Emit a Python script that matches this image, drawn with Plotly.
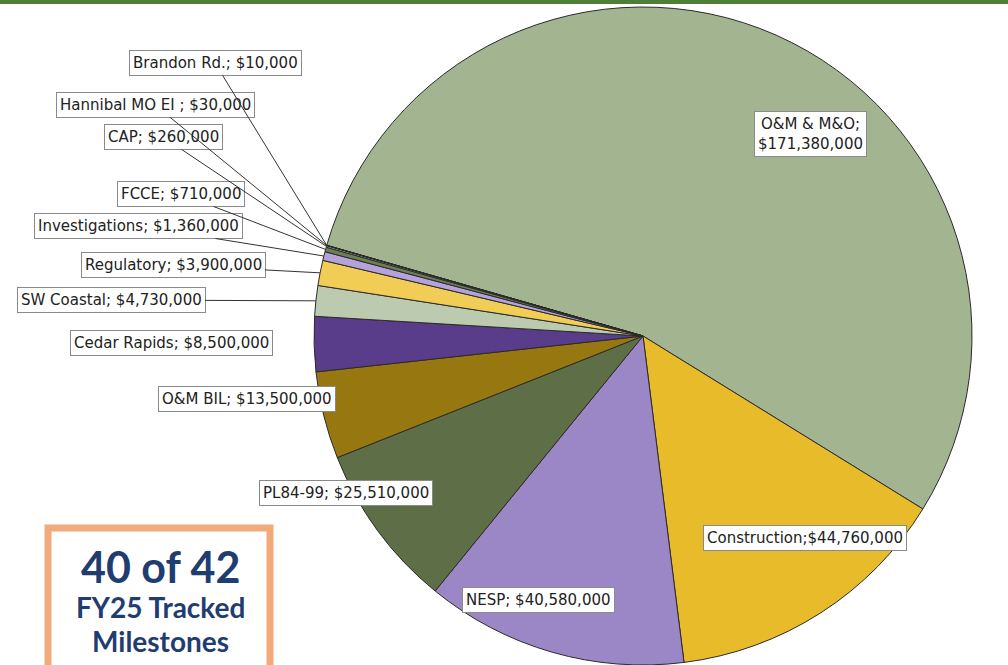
import math
import plotly.graph_objects as go

# data
categories = ["O&M & M&O", "Construction", "NESP", "PL84-99", "O&M BIL", "Cedar Rapids",
              "SW Coastal", "Regulatory", "Investigations", "FCCE", "CAP",
              "Hannibal MO EI ", "Brandon Rd."]
amounts = [171380000, 44760000, 40580000, 25510000, 13500000, 8500000,
           4730000, 3900000, 1360000, 710000, 260000, 30000, 10000]
slice_colors = ["#a3b590", "#e8bb2b", "#9b86c6", "#5e6f47", "#977710", "#5a3d8a",
                "#bccab0", "#f1cd56", "#b5a2d9", "#6c7e55", "#9aa77f", "#4f6a3a", "#3f5a30"]

W, H = 1008, 665
ROT = 286
# pie domain in pixels
DX0, DX1 = 313, 973
DY0, DY1 = 7, 665
CX = (DX0 + DX1) / 2
CY = (DY0 + DY1) / 2
R = min(DX1 - DX0, DY1 - DY0) / 2

# label box centres (px) and whether a leader line is drawn
label_pos = {
    "O&M & M&O": (810, 134, False),
    "Construction": (805, 538, False),
    "NESP": (538, 600, False),
    "PL84-99": (346, 493, False),
    "O&M BIL": (247, 399, False),
    "Cedar Rapids": (171, 343, False),
    "SW Coastal": (111, 300, True),
    "Regulatory": (173, 265, True),
    "Investigations": (138, 226, True),
    "FCCE": (181, 194, True),
    "CAP": (163, 137, True),
    "Hannibal MO EI ": (155, 105, True),
    "Brandon Rd.": (215, 63, True),
}


def fmt(v):
    return "${:,.0f}".format(v)


fig = go.Figure(go.Pie(
    labels=categories, values=amounts, sort=False, direction="clockwise",
    rotation=ROT, textinfo="none", hoverinfo="label+value",
    marker=dict(colors=slice_colors, line=dict(color="#2b2b2b", width=1)),
    domain=dict(x=[DX0 / W, DX1 / W], y=[1 - DY1 / H, 1 - DY0 / H]),
    showlegend=False,
))

total = sum(amounts)
start = ROT
annotations = []
for cat, v in zip(categories, amounts):
    span = v / total * 360
    mid = math.radians(start + span / 2)
    start += span
    bx, by, lead = label_pos[cat]
    if cat == "O&M & M&O":
        text = cat + ";<br>" + fmt(v)
    elif cat == "Construction":
        text = cat + ";" + fmt(v)
    else:
        text = cat + "; " + fmt(v)
    common = dict(text=text, xref="paper", yref="paper",
                  font=dict(family="DejaVu Sans", size=15, color="#222"),
                  bgcolor="white", bordercolor="#8a8a8a", borderwidth=1, borderpad=3)
    if lead:
        tx = CX + R * math.sin(mid)
        ty = CY - R * math.cos(mid)
        annotations.append(dict(x=tx / W, y=1 - ty / H, showarrow=True, arrowhead=0,
                                arrowwidth=1, arrowcolor="#333",
                                ax=bx - tx, ay=by - ty, **common))
    else:
        annotations.append(dict(x=bx / W, y=1 - by / H, xanchor="center", yanchor="middle",
                                showarrow=False, **common))

# callout box
navy = "#1f3d70"
callout = [("<b>40 of 42</b>", 566, 43), ("<b>FY25 Tracked</b>", 607, 28),
           ("<b>Milestones</b>", 641, 28)]
for txt, yy, sz in callout:
    annotations.append(dict(text=txt, x=160 / W, y=1 - yy / H, xref="paper", yref="paper",
                            xanchor="center", yanchor="middle", showarrow=False,
                            font=dict(family="Lato", size=sz, color=navy)))

shapes = [
    dict(type="rect", xref="paper", yref="paper", x0=0, x1=1, y0=1 - 4 / H, y1=1,
         fillcolor="#4f7f37", line=dict(width=0), layer="above"),
    dict(type="rect", xref="paper", yref="paper", x0=48 / W, x1=270 / W,
         y0=-40 / H, y1=1 - 528 / H, fillcolor="white",
         line=dict(color="#f2a97c", width=7), layer="below"),
]

fig.update_layout(width=W, height=H, margin=dict(l=0, r=0, t=0, b=0),
                  paper_bgcolor="white", plot_bgcolor="white",
                  annotations=annotations, shapes=shapes)
fig.write_html("out.html", config={"displayModeBar": False},
               post_script="document.body.style.margin='0';")
